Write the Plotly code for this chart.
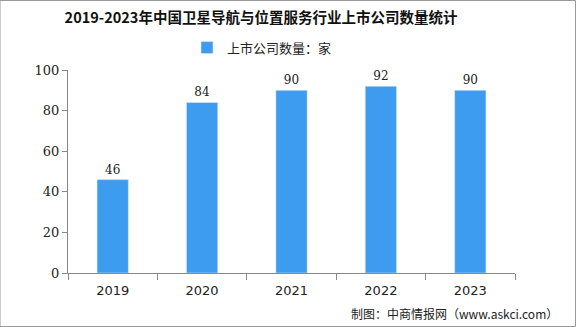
import plotly.graph_objects as go

years = ["2019", "2020", "2021", "2022", "2023"]
counts = [46, 84, 90, 92, 90]
y_ticks = [0, 20, 40, 60, 80, 100]

fig = go.Figure()
fig.add_trace(go.Bar(
    x=years, y=counts, name="上市公司数量：家",
    marker_color="#3d9cf0", width=0.35,
    text=[str(v) for v in counts], textposition="outside",
    textfont=dict(family="DejaVu Serif", size=12, color="#222"),
    cliponaxis=False,
))
fig.update_layout(
    width=576, height=327,
    margin=dict(l=68, r=61, t=70, b=54),
    paper_bgcolor="white", plot_bgcolor="white",
    title=dict(text="<b>2019-2023年中国卫星导航与位置服务行业上市公司数量统计</b>",
               x=261/576, xanchor="center", y=0.945, yanchor="middle",
               font=dict(family="Noto Sans CJK SC", size=14.5, color="#111")),
    showlegend=True,
    legend=dict(orientation="h", x=(187-68)/447, xanchor="left", y=1.11, yanchor="middle",
                font=dict(family="Noto Sans CJK SC", size=13, color="#222"),
                itemwidth=30),
    bargap=0.5,
    shapes=[dict(type="rect", xref="paper", yref="paper", x0=-68/447, x1=1+60.5/447,
                 y0=-53.5/203, y1=1+69.5/203, line=dict(color="#999", width=1))],
    annotations=[dict(text="制图：中商情报网（www.askci.com）", xref="paper", yref="paper",
                      x=1+45/447, y=-40/203, xanchor="right", yanchor="middle", showarrow=False,
                      font=dict(family="Noto Sans CJK SC", size=12, color="#222"))],
)
fig.update_xaxes(showline=True, linecolor="#888", ticks="outside", tickson="boundaries",
                 ticklen=6, tickcolor="#888", ticklabelstandoff=5,
                 tickfont=dict(family="DejaVu Sans", size=13, color="#222"))
fig.update_yaxes(range=[0, 100], tickvals=y_ticks, showline=True, linecolor="#888",
                 ticks="outside", ticklen=5, tickcolor="#888", showgrid=False, zeroline=False,
                 tickfont=dict(family="DejaVu Serif", size=13, color="#222"))
fig.write_html("out.html")
